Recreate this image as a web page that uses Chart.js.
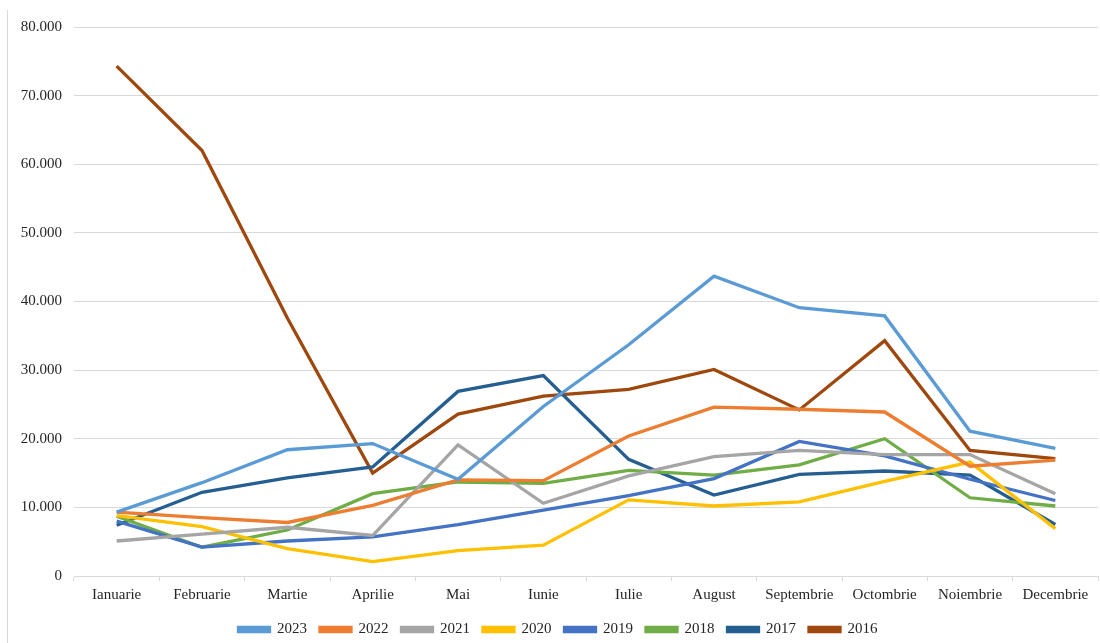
<!DOCTYPE html>
<html>
<head>
<meta charset="utf-8">
<script src="https://cdn.jsdelivr.net/npm/chart.js@4/dist/chart.umd.min.js"></script>
<style>
  html, body { margin: 0; padding: 0; background: #fff; }
  #wrap { position: relative; width: 1100px; height: 643px; }
  #edge { position: absolute; left: 7px; top: 10px; width: 1px; height: 633px; background: #d9d9d9; }
  canvas { position: absolute; left: 0; top: 0; }
</style>
</head>
<body>
<div id="wrap"><div id="edge"></div><canvas id="c" width="1100" height="643"></canvas></div>
<script>
const months = ["Ianuarie","Februarie","Martie","Aprilie","Mai","Iunie","Iulie","August","Septembrie","Octombrie","Noiembrie","Decembrie"];
const y2023 = [9300, 13600, 18400, 19300, 14100, 24700, 33700, 43700, 39100, 37900, 21100, 18600];
const y2022 = [9300, 8500, 7800, 10300, 14000, 13900, 20400, 24600, 24300, 23900, 16000, 16900];
const y2021 = [5100, 6100, 7100, 5900, 19100, 10600, 14600, 17400, 18300, 17700, 17700, 12000];
const y2020 = [8800, 7200, 4000, 2100, 3700, 4500, 11100, 10200, 10800, 13800, 16600, 6900];
const y2019 = [8000, 4200, 5100, 5700, 7500, 9600, 11700, 14200, 19600, 17500, 14100, 11000];
const y2018 = [8700, 4200, 6700, 12000, 13700, 13500, 15400, 14700, 16200, 20000, 11400, 10200];
const y2017 = [7400, 12200, 14300, 15900, 26900, 29200, 17000, 11800, 14800, 15300, 14700, 7500];
const y2016 = [74300, 62000, 37600, 15000, 23600, 26200, 27200, 30100, 24200, 34300, 18300, 17100];
const yTicks = [0, 10000, 20000, 30000, 40000, 50000, 60000, 70000, 80000];

const series = [
  ["2023", y2023, "#5B9BD5"],
  ["2022", y2022, "#ED7D31"],
  ["2021", y2021, "#A5A5A5"],
  ["2020", y2020, "#FFC000"],
  ["2019", y2019, "#4472C4"],
  ["2018", y2018, "#70AD47"],
  ["2017", y2017, "#255E91"],
  ["2016", y2016, "#9E480E"]
];

const fmt = v => String(v).replace(/\B(?=(\d{3})+(?!\d))/g, ".");
const font = { family: "'Liberation Serif', 'Times New Roman', serif", size: 15 };

const legendShift = {
  id: "legendShift",
  afterLayout(chart) {
    if (chart.legend) { chart.legend.left += 9; chart.legend.right += 9; }
  }
};

new Chart(document.getElementById("c"), {
  type: "line",
  data: {
    labels: months,
    datasets: series.map(([name, data, color]) => ({
      label: name,
      data: data,
      borderColor: color,
      backgroundColor: color,
      borderWidth: 3.3,
      pointRadius: 0,
      tension: 0,
      fill: false
    }))
  },
  plugins: [legendShift],
  options: {
    responsive: false,
    animation: false,
    layout: { padding: { top: 27, right: 2, left: 0, bottom: -4 } },
    plugins: {
      tooltip: { enabled: false },
      legend: {
        position: "bottom",
        labels: {
          font: font,
          color: "#262626",
          boxWidth: 31,
          boxHeight: 4,
          padding: 13
        }
      }
    },
    scales: {
      x: {
        offset: true,
        grid: { offset: true, drawOnChartArea: false, drawTicks: true, tickLength: 5, color: "#d9d9d9" },
        border: { color: "#d9d9d9", width: 1 },
        ticks: { font: font, color: "#262626", padding: 5, maxRotation: 0, autoSkip: false }
      },
      y: {
        min: 0,
        max: 80000,
        afterBuildTicks: axis => { axis.ticks = yTicks.map(v => ({ value: v })); },
        afterFit: axis => { axis.width = 74; },
        grid: { color: "#d9d9d9", drawTicks: false, lineWidth: 1 },
        border: { display: false },
        ticks: { font: font, color: "#262626", padding: 12, callback: v => fmt(v) }
      }
    }
  }
});
</script>
</body>
</html>
